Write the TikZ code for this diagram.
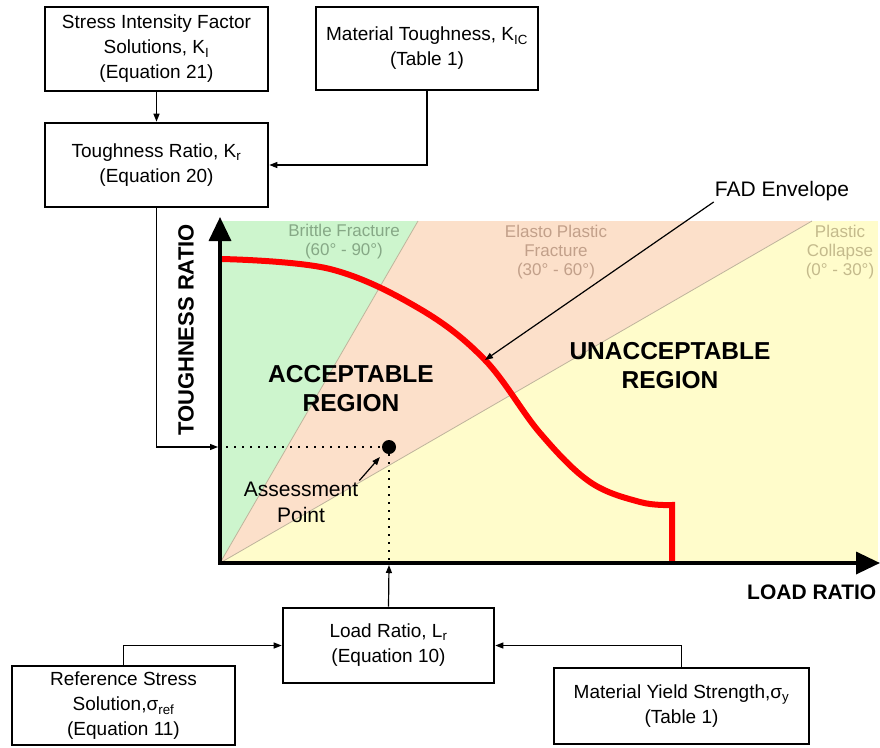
\documentclass[tikz,border=0pt]{standalone}
\usepackage{fontspec}
\setmainfont{Liberation Sans}
\usetikzlibrary{arrows.meta}
\definecolor{brittle}{HTML}{CDF5CD}
\definecolor{elasto}{HTML}{FCE0CA}
\definecolor{collapse}{HTML}{FFFCCB}
\definecolor{brittletxt}{HTML}{86A886}
\definecolor{elastotxt}{HTML}{C2A08A}
\definecolor{collapsetxt}{HTML}{C4BA8C}
\definecolor{border}{HTML}{BFB49C}
\tikzset{
  infobox/.style={draw, line width=2.6pt, inner sep=0pt, align=center,
    font=\fontsize{19}{25}\selectfont},
  link/.style={line width=1.2pt, -{Triangle[length=8pt,width=6pt]}},
  zone/.style={align=center, font=\fontsize{17}{19}\selectfont},
  region/.style={align=center, font=\fontsize{24.5}{29}\selectfont\bfseries},
  guide/.style={line width=1.6pt, dash pattern=on 1.6pt off 6.4pt},
  axis/.style={line width=3.5pt, line join=miter,
    {Triangle[length=24pt,width=22pt]}-{Triangle[length=24pt,width=22pt]}},
}
\begin{document}
\begin{tikzpicture}[x=1pt, y=-1pt]
\useasboundingbox (0,0) rectangle (880,747);
% fracture zones
\fill[collapse] (220,221) rectangle (878,563);
\fill[elasto] (220,563) -- (418,221) -- (812,221) -- cycle;
\fill[brittle] (220,563) -- (220,221) -- (418,221) -- cycle;
\draw[border, line width=0.8pt] (418,221) -- (220,563) -- (812,221);
\node[zone, text=brittletxt] (zb) at (344,242) {Brittle Fracture\\(60° - 90°)};
\node[zone, text=elastotxt] (ze) at (556,252) {Elasto Plastic\\Fracture\\(30° - 60°)};
\node[zone, text=collapsetxt] (zc) at (840,252) {Plastic\\Collapse\\(0° - 30°)};
% FAD envelope
\draw[red, line width=6pt, line join=miter] plot[smooth, tension=0.6] coordinates {(222,259) (330,269) (420,309) (485,360) (540,433) (590,482) (640,502) (672,505)} -- (672,563);
% axes
\coordinate (o) at (220,563);
\coordinate (ytip) at (220,217);
\coordinate (xtip) at (880,563);
\draw[axis] (ytip) -- (o) -- (xtip);
\node[rotate=90, font=\fontsize{22}{26}\selectfont\bfseries] (ylbl) at (186,330) {TOUGHNESS RATIO};
\node[anchor=west, inner sep=0pt, font=\fontsize{21}{25}\selectfont\bfseries] (xlbl) at (747,592) {LOAD RATIO};
\node[region] (acc) at (351,389) {ACCEPTABLE\\REGION};
\node[region] (unacc) at (670,366) {UNACCEPTABLE\\REGION};
% assessment point
\node[circle, fill, minimum size=14pt, inner sep=0pt] (apt) at (389,447) {};
\coordinate (kr) at (218,447);
\coordinate (lr) at (389,565);
\draw[guide] (kr) -- (apt);
\draw[guide] (apt) -- (lr);
\node[align=center, inner sep=1pt, font=\fontsize{21}{26}\selectfont] (alab) at (301,502) {Assessment\\Point};
\draw[link] (alab.north east) -- ([shift={(-4,5)}]apt.south west);
\node[inner sep=1pt, font=\fontsize{21}{25}\selectfont] (flab) at (782,191) {FAD Envelope};
\coordinate (fpt) at (485,360);
\draw[link] (flab.south west) -- (fpt);
% input boxes
\node[infobox, minimum width=223pt, minimum height=84pt] (siff) at (156.5,49) {Stress Intensity Factor\\Solutions, K\textsubscript{I}\\(Equation 21)};
\node[infobox, minimum width=222pt, minimum height=83pt] (mtough) at (427,48.5) {Material Toughness, K\textsubscript{IC}\\(Table 1)};
\node[infobox, minimum width=223pt, minimum height=84pt] (tratio) at (156.5,165) {Toughness Ratio, K\textsubscript{r}\\(Equation 20)};
\node[infobox, minimum width=211pt, minimum height=75pt] (lratio) at (388.5,645.5) {Load Ratio, L\textsubscript{r}\\(Equation 10)};
\node[infobox, minimum width=223pt, minimum height=79pt] (refs) at (123.5,705.5) {Reference Stress\\Solution,σ\textsubscript{ref}\\(Equation 11)};
\node[infobox, minimum width=255pt, minimum height=76pt] (ysig) at (681.5,706) {Material Yield Strength,σ\textsubscript{y}\\(Table 1)};
\draw[link] (siff) -- (tratio);
\draw[link] (mtough.south) |- (tratio.east);
\draw[link] (tratio.south) |- (kr);
\draw[link] (lratio.north) -- (lr);
\draw[link] (refs.north) |- (lratio.west);
\draw[link] (ysig.north) |- (lratio.east);
\end{tikzpicture}
\end{document}
